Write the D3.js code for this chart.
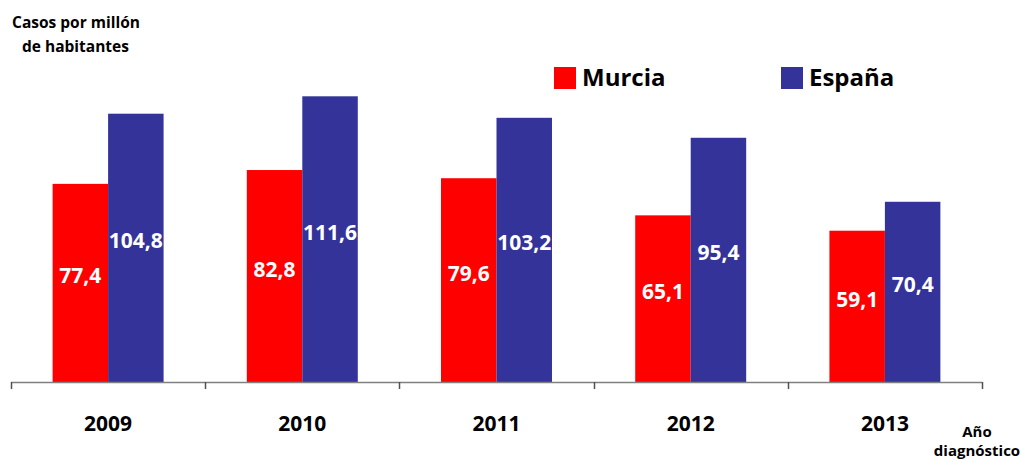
<!DOCTYPE html>
<html>
<head>
<meta charset="utf-8">
<script src="https://cdn.jsdelivr.net/npm/d3@7"></script>
<style>
  body { margin: 0; background: #fff; }
  text { font-family: "Open Sans", sans-serif; font-weight: bold; }
</style>
</head>
<body>
<script>
// data
var years = ["2009", "2010", "2011", "2012", "2013"];
var series = ["Murcia", "España"];
var murcia = [77.4, 82.8, 79.6, 65.1, 59.1];
var espana = [104.8, 111.6, 103.2, 95.4, 70.4];
var colors = ["#ff0000", "#333399"];

//Width and height
var w = 1023;
var h = 460;

var svg = d3.select("body")
            .append("svg")
            .attr("width", w)
            .attr("height", h);

var x0 = d3.scaleBand()
           .domain(years)
           .range([11, 982]);

var x1 = d3.scaleBand()
           .domain(series)
           .range([0, x0.bandwidth()])
           .paddingOuter(0.75);

var y = d3.scaleLinear()
          .domain([0, 120])
          .range([382, 74.8]);

var rows = years.map(function(yr, i) {
  return { year: yr, values: [murcia[i], espana[i]] };
});

var groups = svg.selectAll("g.year")
   .data(rows)
   .enter()
   .append("g")
   .attr("class", "year")
   .attr("transform", function(d) { return "translate(" + x0(d.year) + ",0)"; });

groups.selectAll("rect")
   .data(function(d) { return d.values.map(function(v, j) { return { s: series[j], v: v, c: colors[j] }; }); })
   .enter()
   .append("rect")
   .attr("x", function(d) { return x1(d.s); })
   .attr("y", function(d) { return y(d.v); })
   .attr("width", x1.bandwidth())
   .attr("height", function(d) { return y(0) - y(d.v); })
   .style("fill", function(d) { return d.c; });

// value labels, centred in the bar
groups.selectAll("text.val")
   .data(function(d) { return d.values.map(function(v, j) { return { s: series[j], v: v }; }); })
   .enter()
   .append("text")
   .attr("class", "val")
   .attr("x", function(d) { return x1(d.s) + x1.bandwidth() / 2; })
   .attr("y", function(d) { return (y(d.v) + y(0)) / 2 - 7; })
   .attr("dy", "0.36em")
   .attr("text-anchor", "middle")
   .style("fill", "#fff")
   .style("font-size", "21px")
   .text(function(d) { return d.v.toFixed(1).replace(".", ","); });

//x axis
var axis = svg.append("g");
axis.append("line")
    .attr("x1", 11).attr("x2", 982)
    .attr("y1", y(0) + 0.5).attr("y2", y(0) + 0.5)
    .style("stroke", "#808080")
    .style("stroke-width", 1.5);

var edges = years.map(function(yr) { return x0(yr); }).concat([x0.range()[1]]);
axis.selectAll("line.tick")
    .data(edges)
    .enter()
    .append("line")
    .attr("class", "tick")
    .attr("x1", function(d) { return Math.round(d) + 0.5; })
    .attr("x2", function(d) { return Math.round(d) + 0.5; })
    .attr("y1", y(0))
    .attr("y2", y(0) + 7)
    .style("stroke", "#505050")
    .style("stroke-width", 1.5);

axis.selectAll("text")
    .data(years)
    .enter()
    .append("text")
    .attr("x", function(d) { return x0(d) + x0.bandwidth() / 2; })
    .attr("y", 431)
    .attr("text-anchor", "middle")
    .style("font-size", "21px")
    .style("fill", "#000")
    .text(function(d) { return d; });

// axis titles
svg.append("text").attr("x", 12).attr("y", 28).style("font-size", "15.5px").text("Casos por millón");
svg.append("text").attr("x", 22).attr("y", 52).style("font-size", "15.5px").text("de habitantes");
svg.append("text").attr("x", 977).attr("y", 437).attr("text-anchor", "middle").style("font-size", "15px").text("Año");
svg.append("text").attr("x", 977).attr("y", 456).attr("text-anchor", "middle").style("font-size", "15px").text("diagnóstico");

// legend
var legendX = [554, 781];
var legend = svg.selectAll("g.legend")
   .data(series)
   .enter()
   .append("g")
   .attr("class", "legend")
   .attr("transform", function(d, i) { return "translate(" + legendX[i] + ",67)"; });

legend.append("rect")
   .attr("width", 22)
   .attr("height", 22)
   .style("fill", function(d, i) { return colors[i]; });

legend.append("text")
   .attr("x", 28)
   .attr("y", 19)
   .style("font-size", "24px")
   .style("fill", "#000")
   .text(function(d) { return d; });
</script>
</body>
</html>
